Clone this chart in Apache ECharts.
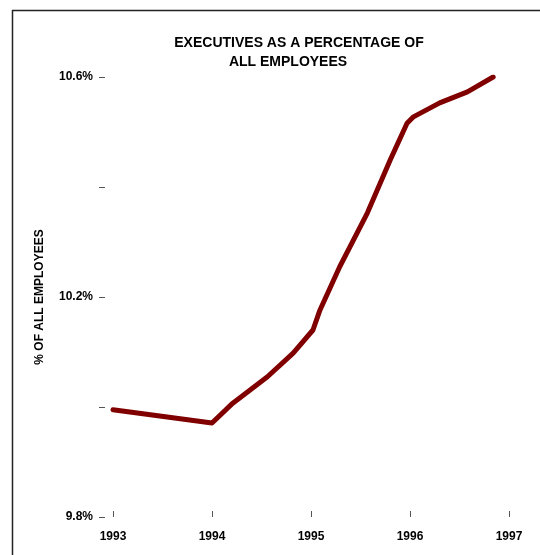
<!DOCTYPE html>
<html>
<head>
<meta charset="utf-8">
<script src="https://cdn.jsdelivr.net/npm/echarts@6/dist/echarts.min.js"></script>
<style>html,body{margin:0;padding:0;background:#fff}#c{width:540px;height:555px}</style>
</head>
<body>
<div id="c"></div>
<script>
var titleLines = ['EXECUTIVES AS A PERCENTAGE OF', 'ALL EMPLOYEES'];
var yAxisName = '% OF ALL EMPLOYEES';
var years = [1993, 1994, 1994.21, 1994.56, 1994.82, 1995.02, 1995.09, 1995.29, 1995.57, 1995.80, 1995.97, 1996.03, 1996.30, 1996.58, 1996.84];
var pct   = [9.995, 9.971, 10.007, 10.055, 10.098, 10.140, 10.176, 10.255, 10.353, 10.449, 10.516, 10.527, 10.553, 10.573, 10.600];
var yLabeled = [10.6, 10.2, 9.8];

var data = years.map(function (y, i) { return [y, pct[i]]; });
var font = 'Liberation Sans, Arial, sans-serif';

var chart = echarts.init(document.getElementById('c'), null, {renderer: 'canvas'});
chart.setOption({
  animation: false,
  backgroundColor: '#fff',
  grid: {left: 113, right: 31, top: 77, bottom: 38},
  graphic: [
    {type: 'line', shape: {x1: 12, y1: 10.5, x2: 540, y2: 10.5}, style: {stroke: '#222', lineWidth: 1.5}},
    {type: 'line', shape: {x1: 12.5, y1: 10, x2: 12.5, y2: 555}, style: {stroke: '#222', lineWidth: 1.5}},
    {type: 'text', x: 299, y: 43, style: {text: titleLines[0], font: 'bold 14px ' + font, fill: '#000', textAlign: 'center', textVerticalAlign: 'middle'}},
    {type: 'text', x: 288, y: 62, style: {text: titleLines[1], font: 'bold 14px ' + font, fill: '#000', textAlign: 'center', textVerticalAlign: 'middle'}}
  ],
  xAxis: {
    type: 'value', min: 1993, max: 1997, interval: 1,
    axisLine: {show: false},
    axisTick: {show: true, inside: true, length: 6, lineStyle: {color: '#555', width: 1}},
    axisLabel: {margin: 14, color: '#000', fontWeight: 'bold', fontSize: 12, fontFamily: font, formatter: function (v) { return String(v); }},
    splitLine: {show: false}
  },
  yAxis: {
    type: 'value', min: 9.8, max: 10.6, interval: 0.2, offset: 8,
    name: yAxisName, nameLocation: 'middle', nameGap: 59, nameRotate: 90,
    nameTextStyle: {color: '#000', fontWeight: 'bold', fontSize: 12, fontFamily: font},
    axisLine: {show: false},
    axisTick: {show: true, length: 6, lineStyle: {color: '#555', width: 1}},
    axisLabel: {margin: 12, color: '#000', fontWeight: 'bold', fontSize: 12, fontFamily: font,
      formatter: function (v) {
        var r = Math.round(v * 10) / 10;
        return yLabeled.indexOf(r) >= 0 ? r.toFixed(1) + '%' : '';
      }},
    splitLine: {show: false}
  },
  series: [{
    type: 'line', data: data, showSymbol: false, smooth: false,
    lineStyle: {color: '#800000', width: 5, cap: 'round', join: 'round'}
  }]
});
</script>
</body>
</html>
